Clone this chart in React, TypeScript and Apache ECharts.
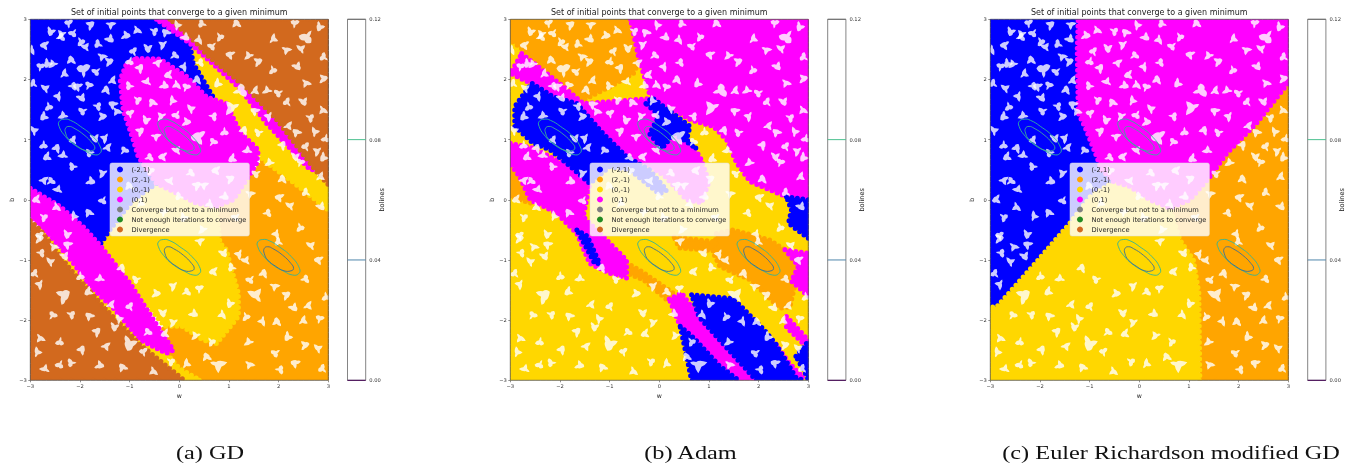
import React, { useEffect, useRef } from "react";
import * as echarts from "echarts";

type Pt = number[];

const titleText = "Set of initial points that converge to a given minimum";
const captions = ["(a) GD", "(b) Adam", "(c) Euler Richardson modified GD"];
const axisTicks = [-3, -2, -1, 0, 1, 2, 3];
const barTicks = [0, 0.04, 0.08, 0.12];
const barColors = ["#440154", "#4f86ab", "#4cc08f", "#6e6e6e"];
const legendNames = ["(-2,1)", "(2,-1)", "(0,-1)", "(0,1)", "Converge but not to a minimum", "Not enough iterations to converge", "Divergence"];
const legendColors = ["#0000ff", "#ffa500", "#ffd700", "#ff00ff", "#808080", "#228b22", "#d2691e"];

// region outlines in (w, b)
const gdRegions: Pt[][][] = [
  [[[-3, 3], [-0.46, 3], [0.21, 2.6], [0.28, 2.27], [0.68, 1.71], [-0.46, 0.27], [-0.93, 0], [-1.4, -0.5], [-1.6, -0.75], [-1.93, -0.45], [-2.4, -0.11], [-3, 0.19]]],
  [[[3, -3], [0.1, -3], [-0.4, -2.4], [-0.3, -2.1], [0.75, -0.11], [1.39, 0.38], [1.69, 0.66], [2.23, 0.33], [3, -0.17]]],
  [
    [[-0.46, 0.27], [-0.05, 0.11], [0.35, -0.06], [0.75, -0.11], [0.82, -0.72], [0.95, -0.83], [1.02, -1.06], [1.19, -1.55], [1.19, -1.94], [0.75, -2.39], [0.48, -2.33], [0.05, -2.1], [-0.3, -2.1], [-0.99, -1.39], [-1.6, -0.75], [-1.4, -0.5], [-0.93, 0]],
    [[0.21, 2.6], [0.62, 2.3], [1.22, 1.85], [1.76, 1.27], [2.63, 0.5], [3, 0.25], [3, -0.17], [2.23, 0.33], [1.69, 0.66], [1.22, 1.16], [0.68, 1.71], [0.28, 2.27]],
    [[-2.8, -0.45], [-2.47, -0.72], [-2.13, -1.06], [-1.8, -1.44], [-1.33, -1.8], [-0.79, -2.33], [-0.26, -2.55], [0, -2.8], [0.42, -3], [0.1, -3], [-0.8, -2.4], [-1.5, -1.8], [-2.2, -1.15], [-2.7, -0.6]],
  ],
  [
    [[-0.86, 2.35], [-0.39, 2.34], [0.15, 2.05], [0.55, 1.71], [0.95, 1.6], [1.22, 1.13], [1.59, 0.83], [1.56, 0.61], [1.39, 0.38], [1.09, 0], [0.75, -0.11], [0.35, -0.06], [-0.05, 0.11], [-0.46, 0.27], [-0.83, 0.72], [-0.93, 1], [-1.13, 1.49], [-1.19, 2], [-1.06, 2.27]],
    [[-0.46, 3], [-0.19, 3], [0.35, 2.6], [0.55, 2.41], [1.36, 1.85], [1.96, 1.33], [2.73, 0.5], [2.63, 0.5], [1.76, 1.27], [1.22, 1.85], [0.62, 2.3], [0.21, 2.6], [-0.26, 2.88]],
    [[-3, 0.19], [-2.4, -0.11], [-1.93, -0.45], [-1.6, -0.75], [-0.99, -1.39], [-0.39, -2.16], [-0.12, -2.5], [-0.26, -2.55], [-0.79, -2.33], [-1.33, -1.8], [-1.8, -1.44], [-2.13, -1.06], [-2.47, -0.72], [-3, -0.28]],
  ],
  [],
  [],
  [
    [[-0.19, 3], [3, 3], [3, 0.25], [2.73, 0.5], [1.96, 1.33], [1.36, 1.85], [0.55, 2.41], [0.35, 2.6]],
    [[-3, -0.35], [-2.8, -0.5], [-2.2, -1.15], [-1.5, -1.8], [-0.8, -2.4], [0.1, -3], [-3, -3]],
  ],
];

const adamRegions: Pt[][][] = [
  [
    [[-2.91, 1.22], [-2.91, 1.55], [-2.57, 1.94], [-2.13, 1.71], [-1.66, 1.6], [-1.13, 1.1], [-0.66, 0.72], [-0.2, 0.5], [0.15, 0.16], [0, 0.1], [-0.6, 0.5], [-1, 0.55], [-1.4, 0.27], [-1.87, 0.61], [-2.2, 0.83], [-2.54, 0.94]],
    [[-0.27, 1.6], [-0.15, 1.7], [0.62, 1.22], [0.55, 1], [0.75, 0.85], [0.3, 1.1], [0.05, 0.85], [-0.2, 1.1], [0, 1.4]],
    [[2.56, 0.05], [3, 0], [3, -0.64], [2.6, -0.39], [2.66, -0.17]],
    [[0.65, -1.58], [1.49, -1.64], [2.1, -2.15], [2.35, -2.4], [2.75, -2.95], [2.9, -3], [1.95, -3], [1.4, -2.5], [0.8, -1.95]],
    [[0.42, -2.1], [0.7, -2.3], [1.2, -2.75], [1.6, -3], [0.65, -3]],
    [[2.75, -2.6], [3, -2.35], [3, -3], [2.95, -2.9]],
    [[-1.66, -0.5], [-1.45, -0.6], [-1.2, -1.06], [-1.3, -1.06]],
  ],
  [
    [[-3, 3], [-0.58, 3], [-0.42, 2.27], [-0.52, 2.1], [-0.99, 1.88], [-1.53, 1.66], [-1.93, 1.88], [-2.47, 2.27], [-2.74, 2.49], [-3, 2.66]],
    [[1.15, -0.56], [1.49, -0.5], [2.23, -0.67], [2.63, -0.89], [2.77, -1.28], [2.63, -1.78], [2.43, -1.8], [1.83, -1.33], [1.22, -1.11], [1.09, -0.89]],
    [[0.3, -0.62], [1.15, -0.7], [1.15, -0.85], [0.4, -0.8]],
    [[-0.66, -1.05], [-0.39, -1.17], [0.28, -1.55], [0.15, -1.66], [-0.32, -1.33], [-0.66, -1.22]],
    [[-3, 0.66], [-2.81, 0.38], [-2.57, -0.06], [-3, 0.05]],
  ],
  [
    [[-3, 3], [3, 3], [3, -3], [-3, -3]],
    [[-1.8, 3], [-1.5, 3], [-0.95, 2.5], [-0.45, 2.05], [-0.25, 1.7], [-0.4, 1.66], [-0.75, 2.0], [-1.2, 2.55]],
    [[-2.9, 3], [-2.7, 3], [-2.3, 2.3], [-2.5, 2.2]],
  ],
  [
    [[-0.58, 3], [3, 3], [3, 0], [2.56, 0.05], [1.83, 0.3], [1.56, 0.61], [1.36, 0.99], [1.09, 1.22], [0.62, 1.33], [-0.19, 1.74], [-0.42, 2.38]],
    [[-2.77, 2.43], [-1.93, 1.88], [-1.53, 1.6], [-0.25, 1.68], [0, 1.3], [0.6, 0.95], [0.82, 0.72], [1, 0.3], [0.85, -0.05], [0.55, 0], [0.1, 0.4], [-0.3, 0.6], [-0.66, 0.72], [-1.13, 1.1], [-1.66, 1.55], [-2.2, 1.71], [-2.6, 1.94], [-3, 2.1]],
    [[-3, 0.94], [-2.54, 0.86], [-1.87, 0.58], [-1.4, 0.27], [-1.53, -0.28], [-0.66, -1], [-0.66, -1.3], [-1, -1.22], [-1.4, -1.06], [-1.66, -0.56], [-2.07, -0.22], [-2.6, 0], [-2.81, 0.38], [-3, 0.6]],
    [[0.2, -1.65], [0.45, -1.55], [0.8, -1.95], [1.4, -2.5], [1.95, -3], [1.6, -3], [1.2, -2.75], [0.7, -2.3], [0.42, -2.1]],
    [[2.35, -2.4], [2.6, -2.7], [2.9, -2.95], [2.75, -2.95], [2.4, -2.55]],
    [[2.53, -0.83], [3, -0.89], [3, -1.6], [2.66, -1.35], [2.8, -1.1]],
    [[2.56, -1.94], [3, -2.33], [3, -2.47], [2.56, -2.12]],
  ],
  [],
  [],
  [],
];

const eulerRegions: Pt[][][] = [
  [[[-3, 3], [-1.23, 3], [-1.25, 2.5], [-1.23, 1.44], [-1.09, 1.2], [-0.86, 0.72], [-0.76, 0.5], [-0.52, 0.3], [-0.99, 0.05], [-1.4, -0.39], [-2.1, -1.06], [-2.87, -1.78], [-3, -1.78]]],
  [[[3, -3], [1.22, -3], [1.2, -1.55], [1.09, -1], [0.82, -0.67], [0.62, -0.14], [1.02, 0], [1.42, 0.38], [1.76, 0.77], [2.36, 1.27], [3, 1.94]]],
  [[[-3, -3], [1.22, -3], [1.2, -1.55], [1.09, -1], [0.82, -0.67], [0.62, -0.14], [0.21, 0], [-0.19, 0.22], [-0.52, 0.3], [-0.99, 0.05], [-1.4, -0.39], [-2.1, -1.06], [-2.87, -1.78], [-3, -1.78]]],
  [[[-1.23, 3], [3, 3], [3, 1.94], [2.36, 1.27], [1.76, 0.77], [1.42, 0.38], [1.02, 0], [0.62, -0.14], [0.21, 0], [-0.19, 0.22], [-0.52, 0.3], [-0.76, 0.5], [-0.86, 0.72], [-1.09, 1.2], [-1.23, 1.44], [-1.25, 2.5]]],
  [],
  [],
  [],
];

const drawOrders = [
  [1, 2, 0, 3, 6, 4, 5],
  [2, 1, 3, 0, 4, 5, 6],
  [0, 1, 2, 3, 4, 5, 6],
];
const panels = [gdRegions, adamRegions, eulerRegions];

// gaps between the sampled start points, the same in all three panels
const gaps: Pt[] = [
  [-2.23, 2.92], [-2.6, 2.81], [-2.36, 2.75], [-2.13, 2.78], [-1.79, 2.89], [-1.39, 2.92], [-2.4, 2.7], [-2.7, 2.58], [-1.89, 2.53], [-1.62, 2.58], [-1.42, 2.67], [-2.97, 2.5], [-1.99, 2.64],
  [-2.16, 2.31], [-2.33, 2.09], [-2.8, 2.2], [-2.66, 2.28], [-2.53, 2.25], [-1.66, 2.14], [-1.42, 2.28], [-1.56, 2.39], [-2.16, 1.89], [-2.03, 1.89], [-2.7, 1.84], [-2.93, 1.92], [-1.99, 1.7], [-2.43, 1.73], [-2.63, 1.56], [-1.46, 1.81], [-1.36, 1.98], [-1.83, 1.89],
  [-2.73, 1.4], [-2.33, 1.39], [-1.93, 1.48], [-1.56, 1.37], [-1.26, 1.48], [-1.66, 1.56], [-1.32, 1.59], [-2.93, 1.14], [-2.13, 0.98], [-1.72, 1.03], [-1.49, 1.03], [-2.73, 0.92], [-2.46, 0.84], [-1.46, 0.87], [-1.12, 0.81], [-2.66, 0.73], [-2.33, 0.73], [-1.79, 0.78],
  [-1.09, 2.72], [-0.85, 2.83], [-0.52, 2.81], [-0.25, 2.78], [-0.05, 2.89], [-0.92, 2.45], [-0.65, 2.53], [-0.32, 2.58], [-0.99, 2.31], [-0.79, 2.17], [-0.45, 2.28], [-0.11, 2.39], [-0.21, 2.09], [-0.65, 1.95], [-0.99, 1.89], [-0.32, 1.89], [-0.05, 1.92], [-0.85, 1.67], [-0.52, 1.61], [-0.15, 1.64], [-0.99, 1.42], [-0.68, 1.34], [-0.35, 1.39], [-0.05, 1.42], [-0.79, 1.12], [-0.48, 1.06], [-0.62, 0.7], [-0.32, 0.73], [-0.05, 0.81],
  [0.47, 2.92], [0.1, 2.7], [0.4, 2.67], [0.81, 2.72], [1.17, 2.92], [1.88, 2.67], [2.32, 2.92], [2.82, 2.89], [1.41, 2.39], [0.67, 2.56], [1.58, 2.28], [2.15, 2.5], [0.4, 2.28], [1.04, 2.42], [2.45, 2.5], [2.92, 2.36], [2.35, 2.22], [0.1, 2.22], [1.88, 2.17], [0.37, 1.98], [1.51, 1.81], [0.13, 1.86], [0.77, 1.95], [1.78, 1.81], [2.01, 1.78], [2.89, 2], [2.55, 1.95],
  [0.67, 1.39], [1.54, 1.48], [0.23, 1.5], [2.18, 1.61], [2.48, 1.64], [1.81, 1.39], [0.91, 1.14], [1.31, 1.14], [2.18, 1.23], [0.67, 0.95], [1.07, 0.7], [1.38, 0.81], [1.61, 1.12], [0.13, 1.28], [2.89, 1.5], [2.62, 1.37], [2.38, 1.12], [2.72, 1.12], [2.55, 0.87], [2.32, 0.73], [2.79, 0.81], [2.95, 1.03], [2.08, 0.89],
  [-2.74, 0.33], [-2.6, 0.3], [-2.87, 0.02], [-2.44, 0.16], [-2.13, 0.55], [-1.8, 0.3], [-2.47, -0.11], [-2.74, -0.28], [-1.8, -0.22], [-2.13, -0.28], [-2.81, -0.61], [-2.27, -0.56], [-1.53, 0.44], [-1.53, 0], [0.35, 0.22], [0.48, 0.25], [0.21, 0.44], [0.75, 0.5], [-0.19, 0.3], [0.01, 0.05], [0.89, 0.05], [0.62, -0.06], [-0.59, 0.5], [-0.99, 0.22], [-0.79, -0.06], [-0.32, -0.22], [0.08, -0.28], [0.48, -0.5], [1.15, -0.28], [1.02, 0.33], [1.42, 0.11], [1.76, -0.22], [2.03, 0.05], [2.23, -0.11], [2.56, 0.11], [2.83, -0.11], [1.96, -0.56], [2.43, -0.45], [2.09, 0.33], [2.83, 0.38], [2.43, 0.61], [2.9, 0.72], [1.83, 0.61], [1.56, 0.44],
  [-2.83, -0.66], [-2.53, -0.77], [-2.8, -0.88], [-2.23, -0.74], [-2.6, -1.04], [-2.9, -1.24], [-2.33, -0.93], [-2.8, -1.4], [-1.99, -1.26], [-1.15, -1.15], [-1.39, -1.74], [-2.56, -1.93], [-1.83, -1.51], [-1.59, -1.32], [-0.85, -1.32], [-0.48, -1.57], [-2.8, -2.29], [-2.19, -1.9], [-1.79, -1.93], [-1.22, -1.99], [-0.99, -1.79], [-0.35, -1.87], [-0.11, -1.43], [-2.4, -2.35], [-1.96, -2.51], [-1.49, -2.43], [-0.65, -2.21], [-0.28, -2.21], [-2.7, -2.82], [-2.16, -2.71], [-1.62, -2.76], [-0.52, -2.84], [-0.18, -2.68], [-1.12, -2.79], [-2.87, -2.54], [-0.72, -2.54], [-1.32, -2.1], [-0.11, -2.04], [-2.4, -2.73], [-1.66, -2.21],
  [0.4, -0.68], [0.13, -1.54], [0.7, -1.18], [1.34, -1.02], [1.07, -1.13], [0.27, -1.9], [0.87, -1.9], [0.64, -2.35], [0.57, -2.62], [0.13, -2.73], [0.4, -1.49], [1.01, -1.71], [0.34, -2.26], [1.44, -1.32], [2.15, -1.6], [1.91, -1.43], [2.52, -1.32], [2.82, -0.99], [2.65, -0.77], [2.01, -0.71], [2.28, -1.79], [1.68, -2.01], [1.34, -1.93], [1.98, -2.04], [2.48, -2.01], [2.82, -1.99], [2.18, -2.26], [1.41, -2.37], [1.95, -2.54], [2.52, -2.43], [1.41, -2.73], [2.01, -2.82], [2.35, -2.71], [2.79, -2.48], [2.89, -2.82], [0.87, -0.88], [1.21, -0.9], [2.95, -1.6], [1.71, -1.24], [2.58, -1.76],
];
const wideGaps: Pt[] = [
  [-1.93, 2.14], [-1.02, -2.37], [1.07, 1.53], [2.58, 2.72], [-2.33, -1.62], [0.77, -2.73], [1.21, 1.81], [0.4, 1.06], [1.54, -1.6],
];

// contour outlines relative to a minimum
const outerRing: Pt[] = [[-0.42, 0.3], [-0.32, 0.34], [-0.19, 0.32], [0.01, 0.22], [0.25, 0.06], [0.42, -0.14], [0.4, -0.23], [0.28, -0.25], [0.11, -0.19], [-0.12, -0.08], [-0.32, 0.08], [-0.42, 0.22]];
const innerRing: Pt[] = [[-0.29, 0.19], [-0.22, 0.22], [-0.12, 0.19], [0.08, 0.08], [0.25, -0.06], [0.3, -0.14], [0.25, -0.18], [0.11, -0.18], [-0.05, -0.11], [-0.22, 0], [-0.29, 0.11]];
const minima: Pt[] = [[-2, 1], [0, 1], [0, -1], [2, -1]];
const innerColors = ["#3fa99b", "#3fa99b", "#3d6e93", "#3d6e93"];
const outerColor = "#2fb59a";

const grids = [30.3, 510.3, 990.3];
const barLefts = [347.5, 827.7, 1307.7];
const captionCentres = [210, 690.5, 1171];
const FONT = "DejaVu Sans";
const gapShapes = [
  "path://M-10,-1 Q-6,-5 -1,-3 Q4,-6 9,-3 Q7,1 2,2 Q3,5 0,7 Q-3,4 -3,2 Q-7,3 -10,-1 Z",
  "path://M-9,3 Q-6,-3 -2,-3 Q0,-6 4,-6 Q5,-2 3,0 Q7,1 9,4 Q4,5 0,4 Q-5,6 -9,3 Z",
  "path://M-7,-5 Q-3,-5 0,-3 Q4,-4 7,-4 Q6,0 3,2 Q4,5 3,7 Q0,6 -1,3 Q-5,2 -7,-5 Z",
];

function buildOption() {
  const grid: any[] = [];
  const xAxis: any[] = [];
  const yAxis: any[] = [];
  const series: any[] = [];
  const title: any[] = [];
  const legend: any[] = [];
  const tick = (v: number) => String(v).replace("-", "\u2212");

  panels.forEach((regions, p) => {
    const gi = p * 2;
    grid.push({ left: grids[p], top: 19.3, width: 298, height: 361, show: true, borderColor: "#555", borderWidth: 0.8, backgroundColor: "transparent", z: 10 });
    xAxis.push({
      gridIndex: gi, type: "value", min: -3, max: 3, interval: 1, name: "w", nameLocation: "middle", nameGap: 12, nameMoveOverlap: false,
      nameTextStyle: { fontFamily: FONT, fontSize: 6.2, color: "#222" },
      axisLine: { show: false, onZero: false }, splitLine: { show: false },
      axisTick: { length: 2, lineStyle: { color: "#444", width: 0.6 } },
      axisLabel: { fontFamily: FONT, fontSize: 5.2, color: "#333", margin: 3.5, formatter: tick, customValues: axisTicks },
    });
    yAxis.push({
      gridIndex: gi, type: "value", min: -3, max: 3, interval: 1, name: "b", nameLocation: "middle", nameGap: 16, nameRotate: 90, nameMoveOverlap: false,
      nameTextStyle: { fontFamily: FONT, fontSize: 6.2, color: "#222" },
      axisLine: { show: false, onZero: false }, splitLine: { show: false },
      axisTick: { length: 2, lineStyle: { color: "#444", width: 0.6 } },
      axisLabel: { fontFamily: FONT, fontSize: 5.2, color: "#333", margin: 3.5, formatter: tick },
    });
    grid.push({ left: barLefts[p], top: 19.3, width: 18.2, height: 361, show: true, borderColor: "#777", borderWidth: 0.9, backgroundColor: "#fff", z: 1 });
    xAxis.push({ gridIndex: gi + 1, type: "value", min: 0, max: 1, show: false });
    yAxis.push({
      gridIndex: gi + 1, type: "value", position: "right", min: 0, max: 0.12, interval: 0.04, name: "bolines", nameLocation: "middle", nameGap: 13, nameMoveOverlap: false,
      nameTextStyle: { fontFamily: FONT, fontSize: 6.6, color: "#222" },
      axisLine: { show: false }, splitLine: { show: false },
      axisTick: { length: 2, lineStyle: { color: "#444", width: 0.6 } },
      axisLabel: { fontFamily: FONT, fontSize: 5.2, color: "#333", margin: 3.5, formatter: (v: number) => v.toFixed(2) },
    });

    legendNames.forEach((name, c) => {
      const polys = regions[c];
      const color = legendColors[c];
      series.push({
        type: "custom", name, coordinateSystem: "cartesian2d", xAxisIndex: gi, yAxisIndex: gi, clip: true, silent: true,
        z: 1 + drawOrders[p].indexOf(c) * 0.1,
        itemStyle: { color },
        data: polys.map((poly, i) => [poly[0][0], poly[0][1], i]),
        renderItem: (params: any, api: any) => ({
          type: "polygon",
          shape: { points: polys[params.dataIndex].map((v) => api.coord(v)) },
          style: { fill: color, stroke: color, lineWidth: 5, lineDash: [0, 5.5], lineCap: "round" },
        }),
      });
    });

    const gapBase = { type: "scatter", xAxisIndex: gi, yAxisIndex: gi, clip: true, silent: true, z: 3, itemStyle: { color: "#fff" },
      symbol: (_: any, params: any) => gapShapes[params.dataIndex % 3],
      symbolRotate: (_: any, params: any) => (params.dataIndex * 47) % 360 };
    series.push({ ...gapBase, name: "gaps", symbolSize: 9, data: gaps });
    series.push({ ...gapBase, name: "wide gaps", symbolSize: 14, data: wideGaps });

    [outerRing, innerRing].forEach((ring, r) => {
      series.push({
        type: "custom", name: r ? "contour inner" : "contour outer", coordinateSystem: "cartesian2d", xAxisIndex: gi, yAxisIndex: gi, clip: true, silent: true, z: 4,
        data: minima,
        renderItem: (params: any, api: any) => {
          const m = minima[params.dataIndex];
          return {
            type: "polygon",
            shape: { smooth: 0.5, points: ring.map((d) => api.coord([m[0] + d[0], m[1] + d[1]])) },
            style: { fill: "none", stroke: r ? innerColors[params.dataIndex] : outerColor, lineWidth: 0.9 },
          };
        },
      });
    });

    series.push({
      type: "custom", name: "colorbar levels", coordinateSystem: "cartesian2d", xAxisIndex: gi + 1, yAxisIndex: gi + 1, silent: true, z: 5,
      data: barTicks.map((t) => [0, t]),
      renderItem: (params: any, api: any) => {
        const a = api.coord([0, barTicks[params.dataIndex]]);
        const b = api.coord([1, barTicks[params.dataIndex]]);
        return { type: "line", shape: { x1: a[0], y1: a[1], x2: b[0], y2: b[1] }, style: { stroke: barColors[params.dataIndex], lineWidth: 1 } };
      },
    });

    title.push({
      text: titleText, left: grids[p] + 149, top: 8, textAlign: "center", padding: 0, z: 20,
      textStyle: { fontFamily: FONT, fontSize: 8, fontWeight: "normal", color: "#222" },
    });
    legend.push({
      left: grids[p] + 79.7, top: 163, orient: "vertical", selectedMode: false, itemWidth: 13, itemHeight: 6, itemGap: 3,
      padding: [3, 3, 3, 7], backgroundColor: "rgba(255,255,255,0.8)", borderColor: "#ddd", borderWidth: 0.5, borderRadius: 2, z: 20,
      textStyle: { fontFamily: FONT, fontSize: 6.7, color: "#222" },
      data: legendNames.map((name, c) => ({ name, icon: "circle", itemStyle: { color: legendColors[c] } })),
    });
  });

  const graphic = captions.map((text, i) => ({
    type: "text", x: captionCentres[i], y: 453, scaleX: 1.28, z: 30,
    style: { text, x: 0, y: 0, align: "center", verticalAlign: "middle", fontFamily: "Liberation Serif", fontSize: 19, fill: "#111" },
  }));

  return { animation: false, backgroundColor: "#fff", title, legend, grid, xAxis, yAxis, series, graphic };
}

export default function App() {
  const ref = useRef<HTMLDivElement>(null);
  useEffect(() => {
    const chart = echarts.init(ref.current!, undefined, { renderer: "svg" });
    chart.setOption(buildOption() as any);
    return () => chart.dispose();
  }, []);
  return <div ref={ref} style={{ position: "absolute", left: 0, top: 0, width: 1347, height: 465, filter: "blur(0.4px)" }} />;
}
